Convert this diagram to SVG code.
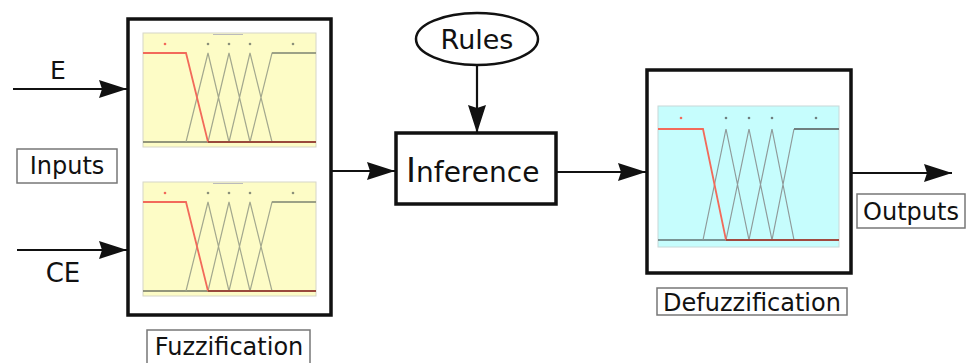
<svg xmlns="http://www.w3.org/2000/svg" width="973" height="363" viewBox="0 0 973 363">
<style>
  .box{fill:#fff;stroke:#111;stroke-width:3.5}
  .lbl{fill:#fff;stroke:#777;stroke-width:1.5}
  .t{font-family:"DejaVu Sans",Verdana,sans-serif;fill:#111}
  .c{stroke:#111;stroke-width:2.2;fill:none}
  .mf{stroke:#a3a88e;stroke-width:1.2;fill:none}
  .mfd{stroke:#8f9a9a;stroke-width:1.2;fill:none}
  .red{stroke:#f26a5a;stroke-width:1.8;fill:none}
</style>
<defs>
  <marker id="ah" markerUnits="userSpaceOnUse" markerWidth="30" markerHeight="20" refX="28" refY="9" orient="auto">
    <path d="M0,0 L28,9 L0,18 L3,9 z" fill="#111"/>
  </marker>
  <g id="fplot">
    <rect x="0" y="0" width="173" height="114" fill="#fdfcc6" stroke="#d6d6c8" stroke-width="1"/>
    <line x1="70" y1="1.5" x2="100" y2="1.5" stroke="#bbb" stroke-width="1"/>
    <line x1="0" y1="109" x2="173" y2="109" stroke="#6f7462" stroke-width="1.5"/>
    <path class="mf" d="M43,109 L65,20 L86,109 M65,109 L86,20 L107,109 M86,109 L107,20 L129,109 M107,109 L129,20 L173,20"/>
    <path d="M129,20 L173,20" stroke="#8b907a" stroke-width="1.6" fill="none"/>
    <path class="red" d="M0,20 L43,20 L65,109"/>
    <path d="M65,109 L173,109" stroke="#9a4a3c" stroke-width="2" fill="none"/>
    <circle cx="22" cy="11" r="1.3" fill="#f26a5a"/>
    <circle cx="65" cy="11" r="1.3" fill="#8b907a"/>
    <circle cx="86" cy="11" r="1.3" fill="#8b907a"/>
    <circle cx="107" cy="11" r="1.3" fill="#8b907a"/>
    <circle cx="150" cy="11" r="1.3" fill="#8b907a"/>
  </g>
</defs>

<g id="connectors">
  <line class="c" x1="13" y1="89" x2="127" y2="89" marker-end="url(#ah)"/>
  <line class="c" x1="17" y1="250" x2="127" y2="250" marker-end="url(#ah)"/>
  <line class="c" x1="331" y1="171" x2="395" y2="171" marker-end="url(#ah)"/>
  <line class="c" x1="477" y1="65" x2="477" y2="133" marker-end="url(#ah)"/>
  <line class="c" x1="556" y1="172" x2="646" y2="172" marker-end="url(#ah)"/>
  <line class="c" x1="851" y1="173" x2="952" y2="173" marker-end="url(#ah)"/>
</g>

<g id="input-E">
  <text class="t" x="58" y="79" font-size="25" text-anchor="middle">E</text>
</g>
<g id="input-CE">
  <text class="t" x="63" y="282" font-size="26" text-anchor="middle">CE</text>
</g>
<g id="inputs-label">
  <rect class="lbl" x="17" y="149" width="100" height="34"/>
  <text class="t" x="67" y="174" font-size="24" text-anchor="middle">Inputs</text>
</g>

<g id="fuzzification">
  <rect class="box" x="128" y="19" width="203" height="296"/>
  <use href="#fplot" transform="translate(143,33)"/>
  <use href="#fplot" transform="translate(143,182)"/>
</g>
<g id="fuzzification-label">
  <rect class="lbl" x="147" y="330" width="163" height="34"/>
  <text class="t" x="229" y="355" font-size="24" text-anchor="middle">Fuzzification</text>
</g>

<g id="rules">
  <ellipse cx="477" cy="39" rx="61" ry="26" fill="#fff" stroke="#111" stroke-width="2.5"/>
  <text class="t" x="477" y="49" font-size="27" text-anchor="middle">Rules</text>
</g>

<g id="inference">
  <rect class="box" x="396" y="133" width="160" height="71"/>
  <text class="t" x="406" y="182" font-size="28"><tspan font-size="34">I</tspan>nference</text>
</g>

<g id="defuzzification">
  <rect class="box" x="647" y="70" width="204" height="203"/>
  <rect x="658" y="106" width="181" height="141" fill="#c6fdfd" stroke="#c8d8d8" stroke-width="1"/>
  <line x1="658" y1="240" x2="839" y2="240" stroke="#5f7070" stroke-width="1.5"/>
  <path class="mfd" d="M703,240 L726,129 L749,240 M726,240 L749,129 L772,240 M749,240 L772,129 L794,240 M772,240 L794,129"/>
  <path d="M794,129 L839,129" stroke="#6f7f7f" stroke-width="1.8" fill="none"/>
  <path class="red" d="M658,129 L703,129 L726,240"/>
  <path d="M726,240 L839,240" stroke="#a04a40" stroke-width="2" fill="none"/>
  <circle cx="681" cy="118" r="1.3" fill="#f26a5a"/>
  <circle cx="726" cy="118" r="1.3" fill="#6f7f7f"/>
  <circle cx="749" cy="118" r="1.3" fill="#6f7f7f"/>
  <circle cx="772" cy="118" r="1.3" fill="#6f7f7f"/>
  <circle cx="816" cy="118" r="1.3" fill="#6f7f7f"/>
</g>
<g id="defuzzification-label">
  <rect class="lbl" x="657" y="288" width="190" height="27"/>
  <text class="t" x="752" y="311" font-size="24" text-anchor="middle">Defuzzification</text>
</g>

<g id="outputs-label">
  <rect class="lbl" x="857" y="194" width="108" height="34"/>
  <text class="t" x="911" y="220" font-size="24" text-anchor="middle">Outputs</text>
</g>
</svg>
